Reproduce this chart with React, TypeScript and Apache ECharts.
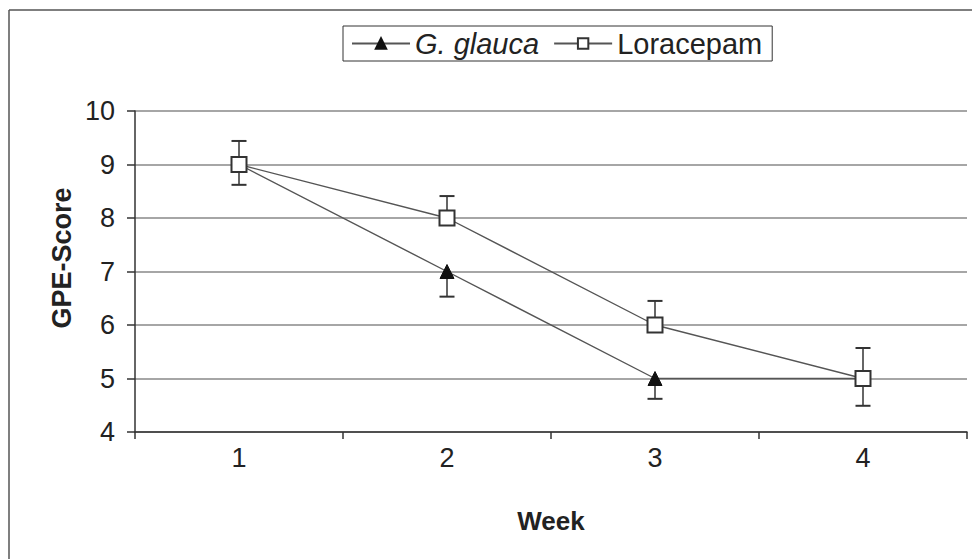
import React, { useEffect, useRef } from "react";
import * as echarts from "echarts";

const weeks = ["1", "2", "3", "4"];
const glaucaValues = [9, 7, 5, 5];
const loracepamValues = [9, 8, 6, 5];
const glaucaLower = [8.62, 6.53, 4.62, 4.49];
const loracepamUpper = [9.44, 8.41, 6.45, 5.57];
const yTicks = { min: 4, max: 10, interval: 1 };

const FONT = "'Liberation Sans', Arial, sans-serif";

function errorBar(color: string) {
  return (params: any, api: any) => {
    const p = api.coord([api.value(0), api.value(1)]);
    const q = api.coord([api.value(0), api.value(2)]);
    const half = 7.5;
    return {
      type: "group",
      children: [
        {
          type: "line",
          shape: { x1: p[0], y1: p[1], x2: q[0], y2: q[1] },
          style: { stroke: "#666", lineWidth: 2 },
        },
        {
          type: "line",
          shape: { x1: q[0] - half, y1: q[1], x2: q[0] + half, y2: q[1] },
          style: { stroke: color, lineWidth: 2 },
        },
      ],
    };
  };
}

export default function App() {
  const ref = useRef<HTMLDivElement>(null);
  useEffect(() => {
    if (!ref.current) return;
    const chart = echarts.init(ref.current, null, { renderer: "svg" });
    chart.setOption({
      animation: false,
      backgroundColor: "#fff",
      textStyle: { fontFamily: FONT },
      graphic: [
        {
          type: "line",
          shape: { x1: 9, y1: 10, x2: 972, y2: 10 },
          style: { stroke: "#555", lineWidth: 1.5 },
        },
        {
          type: "line",
          shape: { x1: 9, y1: 10, x2: 9, y2: 559 },
          style: { stroke: "#555", lineWidth: 1.5 },
        },
        {
          type: "text",
          x: 62,
          y: 258,
          rotation: Math.PI / 2,
          style: {
            text: "GPE-Score",
            font: `bold 27px ${FONT}`,
            fill: "#222",
            align: "center",
            verticalAlign: "middle",
          },
        },
      ],
      legend: {
        left: 343,
        top: 26,
        orient: "horizontal",
        itemWidth: 58,
        itemHeight: 13,
        itemGap: 14,
        padding: [3, 10, 3, 8],
        borderColor: "#333",
        borderWidth: 1,
        data: ["G. glauca", "Loracepam"],
        textStyle: {
          fontFamily: FONT,
          fontSize: 29,
          color: "#222",
          rich: {
            i: { fontStyle: "italic", fontSize: 29, fontFamily: FONT, color: "#222" },
          },
        },
        formatter: (name: string) => (name === "G. glauca" ? "{i|G. glauca}" : name),
      },
      grid: { left: 135, right: 5, top: 111, bottom: 127 },
      xAxis: {
        type: "category",
        data: weeks,
        boundaryGap: true,
        name: "Week",
        nameLocation: "middle",
        nameGap: 76,
        nameTextStyle: { fontSize: 26, fontWeight: "bold", color: "#222", fontFamily: FONT },
        axisLine: { lineStyle: { color: "#333", width: 1.5 } },
        axisTick: { show: true, length: 7, lineStyle: { color: "#333", width: 1.5 } },
        axisLabel: { fontSize: 27, color: "#222", margin: 12, fontFamily: FONT },
        splitLine: { show: false },
      },
      yAxis: {
        type: "value",
        min: yTicks.min,
        max: yTicks.max,
        interval: yTicks.interval,
        axisLine: { show: true, lineStyle: { color: "#333", width: 1.5 } },
        axisTick: { show: true, length: 8, lineStyle: { color: "#333", width: 1.5 } },
        axisLabel: { fontSize: 27, color: "#222", margin: 20, fontFamily: FONT },
        splitLine: { show: true, lineStyle: { color: "#888", width: 1.5 } },
      },
      series: [
        {
          type: "custom",
          name: "glaucaErr",
          renderItem: errorBar("#333"),
          data: weeks.map((_, i) => [i, glaucaValues[i], glaucaLower[i]]),
          z: 1,
          silent: true,
        },
        {
          type: "custom",
          name: "loracepamErr",
          renderItem: errorBar("#333"),
          data: weeks.map((_, i) => [i, loracepamValues[i], loracepamUpper[i]]),
          z: 1,
          silent: true,
        },
        {
          type: "line",
          name: "G. glauca",
          data: glaucaValues,
          symbol: "triangle",
          symbolSize: 14,
          lineStyle: { color: "#555", width: 1.4 },
          itemStyle: { color: "#111", borderColor: "#111", borderWidth: 1 },
          z: 3,
        },
        {
          type: "line",
          name: "Loracepam",
          data: loracepamValues,
          symbol: "rect",
          symbolSize: 15,
          lineStyle: { color: "#555", width: 1.4 },
          itemStyle: { color: "#fff", borderColor: "#333", borderWidth: 2 },
          z: 4,
        },
      ],
    });
    return () => chart.dispose();
  }, []);
  return <div ref={ref} style={{ width: 972, height: 559, position: "absolute", left: 0, top: 0 }} />;
}
